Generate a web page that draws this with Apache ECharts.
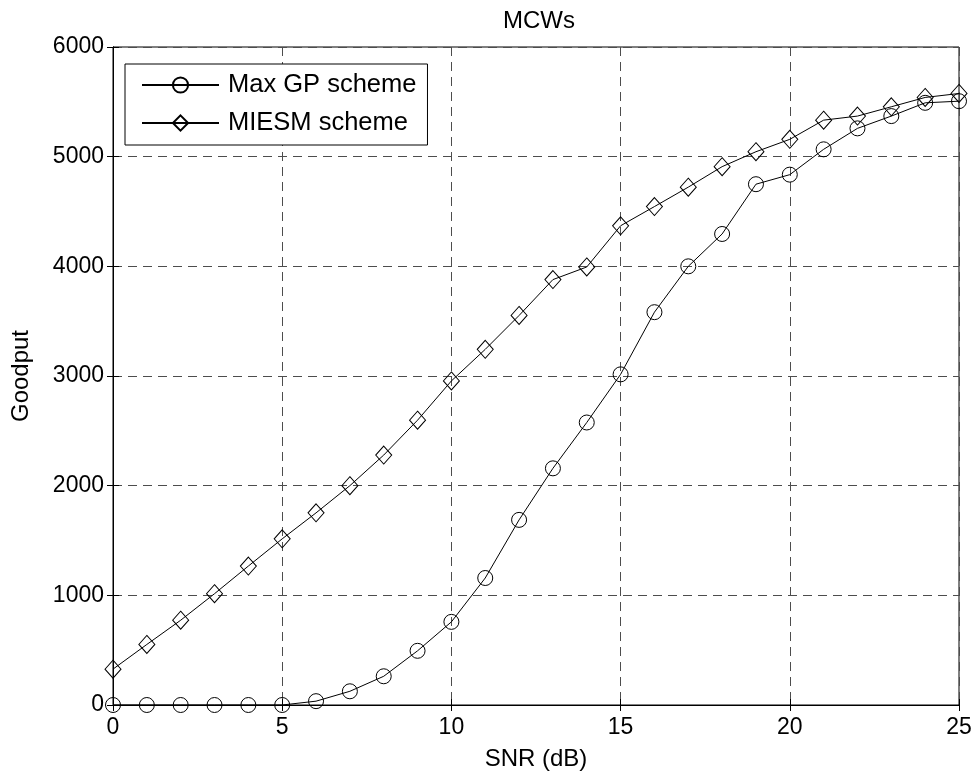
<!DOCTYPE html>
<html>
<head>
<meta charset="utf-8">
<title>MCWs</title>
<script src="https://cdn.jsdelivr.net/npm/echarts@6/dist/echarts.min.js"></script>
<style>
  html, body { margin: 0; padding: 0; background: #ffffff; }
  #chart { width: 976px; height: 776px; }
</style>
</head>
<body>
<div id="chart"></div>
<script>
// SNR sweep (dB)
const snr = [0, 1, 2, 3, 4, 5, 6, 7, 8, 9, 10, 11, 12, 13, 14, 15, 16, 17, 18, 19, 20, 21, 22, 23, 24, 25];

// Goodput per SNR point
const maxGP = [0, 0, 0, 0, 0, 0, 35, 125, 262, 494, 758, 1158, 1688, 2158, 2576, 3015,
               3582, 4000, 4295, 4749, 4836, 5067, 5258, 5370, 5491, 5506];
const miesm = [327, 552, 773, 1015, 1267, 1515, 1752, 2000, 2279, 2597, 2955, 3243, 3552, 3879, 3994, 4370,
               4545, 4722, 4909, 5045, 5158, 5333, 5370, 5455, 5540, 5576];

const seriesNames = ['Max GP scheme', 'MIESM scheme'];
const titleText = 'MCWs';
const xName = 'SNR (dB)';
const yName = 'Goodput';

const FONT = 'Liberation Sans, Arial, Helvetica, sans-serif';

function pairs(xs, ys) {
  return xs.map((x, i) => [x, ys[i]]);
}

const plain = v => String(v);
const gridLine = { show: true, lineStyle: { color: '#4d4d4d', type: [9, 6], width: 1 } };
const tickIn = { show: true, inside: true, length: 6, lineStyle: { color: '#000' } };

const chart = echarts.init(document.getElementById('chart'), null, { renderer: 'canvas' });

chart.setOption({
  backgroundColor: '#ffffff',
  animation: false,
  title: {
    text: titleText,
    left: 534,
    top: 4,
    textAlign: 'center',
    textStyle: { fontFamily: FONT, fontSize: 24, fontWeight: 'normal', color: '#000' }
  },
  grid: {
    left: 113, right: 17, top: 47, bottom: 69,
    show: true, borderColor: '#000', borderWidth: 1, backgroundColor: 'transparent'
  },
  legend: {
    orient: 'vertical',
    left: 125,
    top: 64,
    padding: [7, 11, 8, 16],
    itemGap: 10,
    itemWidth: 77,
    itemHeight: 19,
    backgroundColor: '#ffffff',
    borderColor: '#000',
    borderWidth: 1,
    borderRadius: 0,
    textStyle: {
      fontFamily: FONT, fontSize: 25.5, color: '#000',
      lineHeight: 28, padding: [0, 0, 0, 4]
    },
    data: seriesNames
  },
  xAxis: [
    {
      type: 'value', min: 0, max: 25, interval: 5,
      name: xName, nameLocation: 'middle', nameGap: 42,
      nameTextStyle: { fontFamily: FONT, fontSize: 24, color: '#000' },
      axisLine: { show: true, lineStyle: { color: '#000', width: 1 } },
      axisTick: tickIn,
      axisLabel: { fontFamily: FONT, fontSize: 23, color: '#000', margin: 11, formatter: plain },
      splitLine: gridLine
    },
    {
      type: 'value', position: 'top', min: 0, max: 25, interval: 5,
      axisLine: { show: true, lineStyle: { color: '#000', width: 1 } },
      axisTick: tickIn,
      axisLabel: { show: false },
      splitLine: { show: false }
    }
  ],
  yAxis: [
    {
      type: 'value', min: 0, max: 6000, interval: 1000,
      name: yName, nameLocation: 'middle', nameGap: 80,
      nameTextStyle: { fontFamily: FONT, fontSize: 24, color: '#000' },
      axisLine: { show: true, lineStyle: { color: '#000', width: 1 } },
      axisTick: tickIn,
      axisLabel: { fontFamily: FONT, fontSize: 23, color: '#000', margin: 9, formatter: plain },
      splitLine: gridLine
    },
    {
      type: 'value', position: 'right', min: 0, max: 6000, interval: 1000,
      axisLine: { show: true, lineStyle: { color: '#000', width: 1 } },
      axisTick: tickIn,
      axisLabel: { show: false },
      splitLine: { show: false }
    }
  ],
  series: [
    {
      name: seriesNames[0],
      type: 'line',
      data: pairs(snr, maxGP),
      symbol: 'circle',
      symbolSize: 15,
      showAllSymbol: true,
      lineStyle: { color: '#000', width: 1 },
      itemStyle: { color: 'rgba(0,0,0,0)', borderColor: '#000', borderWidth: 1 },
      emphasis: { disabled: true },
      z: 3
    },
    {
      name: seriesNames[1],
      type: 'line',
      data: pairs(snr, miesm),
      symbol: 'diamond',
      symbolSize: [16, 18],
      showAllSymbol: true,
      lineStyle: { color: '#000', width: 1 },
      itemStyle: { color: 'rgba(0,0,0,0)', borderColor: '#000', borderWidth: 1 },
      emphasis: { disabled: true },
      z: 3
    }
  ]
});
</script>
</body>
</html>
